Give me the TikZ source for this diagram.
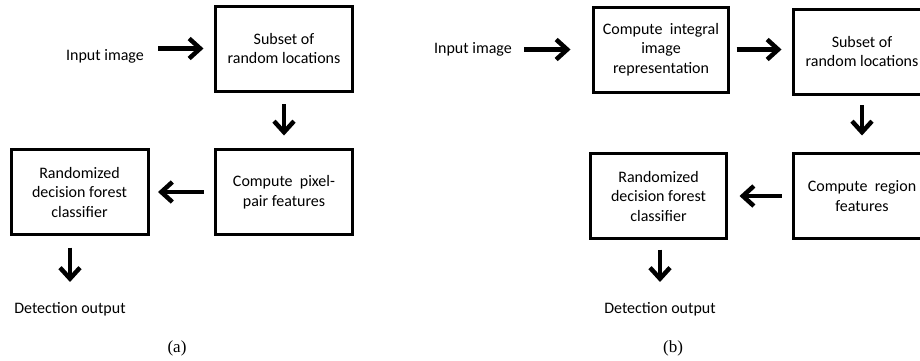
\documentclass[tikz,border=0pt]{standalone}
\usepackage{fontspec}
\setmainfont{Carlito}
\newfontfamily\capfont{Liberation Serif}
\usetikzlibrary{arrows.meta, positioning}

\begin{document}
\begin{tikzpicture}[x=1pt, y=-1pt,
    >={Straight Barb[length=11pt, width=20pt]},
    blk/.style={draw, line width=3pt, align=center, minimum width=137pt,
        minimum height=85pt, inner sep=2pt, font=\fontsize{16}{19.5}\selectfont},
    lbl/.style={inner sep=0pt, font=\fontsize{16}{19.5}\selectfont},
    flow/.style={->, line width=4.5pt},
    sublbl/.style={inner sep=0pt, font=\capfont\fontsize{17}{20}\selectfont}]
    \useasboundingbox (0,0) rectangle (920,360);
    \clip (0,0) rectangle (920,360);

    % (a) pixel-pair features
    \node[lbl] (inA) at (105,56) {Input image};
    \node[blk] (subA) at (284,48.5) {Subset of\\random locations};
    \node[blk] (compA) at (284,192) {Compute~~pixel-\\pair features};
    \node[blk] (randA) at (79.5,192) {Randomized\\decision forest\\classifier};
    \node[lbl] (detA) at (70,309) {Detection output};
    \node[sublbl] (capA) at (177,348) {(a)};

    \draw[flow, shorten <=14pt, shorten >=10.5pt] (inA.east |- subA.west) -- (subA.west);
    \draw[flow, shorten <=11.5pt, shorten >=12.5pt] (subA.south) -- (compA.north);
    \draw[flow, shorten <=10.5pt, shorten >=8.5pt] (compA.west) -- (randA.east);
    \draw[flow, shorten <=11.5pt, shorten >=20pt] (detA.north |- randA.south) -- (detA.north);

    % (b) region features on the integral image
    \node[lbl] (inB) at (473,49) {Input image};
    \node[blk, minimum width=135pt] (intB) at (661,49.5) {Compute~~integral\\image\\representation};
    \node[blk] (subB) at (862,51.5) {Subset of\\random locations};
    \node[blk] (compB) at (862,196) {Compute~~region\\features};
    \node[blk, minimum width=136pt] (randB) at (658.5,196) {Randomized\\decision forest\\classifier};
    \node[lbl] (detB) at (660,309) {Detection output};
    \node[sublbl] (capB) at (673,348) {(b)};

    \draw[flow, shorten <=12pt, shorten >=21.5pt] (inB.east |- intB.west) -- (intB.west);
    \draw[flow, shorten <=6.5pt, shorten >=10.5pt] (intB.east) -- (intB.east -| subB.west);
    \draw[flow, shorten <=9.5pt, shorten >=16.5pt] (subB.south) -- (compB.north);
    \draw[flow, shorten <=10.5pt, shorten >=11.5pt] (compB.west) -- (randB.east);
    \draw[flow, shorten <=9.5pt, shorten >=20pt] (detB.north |- randB.south) -- (detB.north);
\end{tikzpicture}
\end{document}
